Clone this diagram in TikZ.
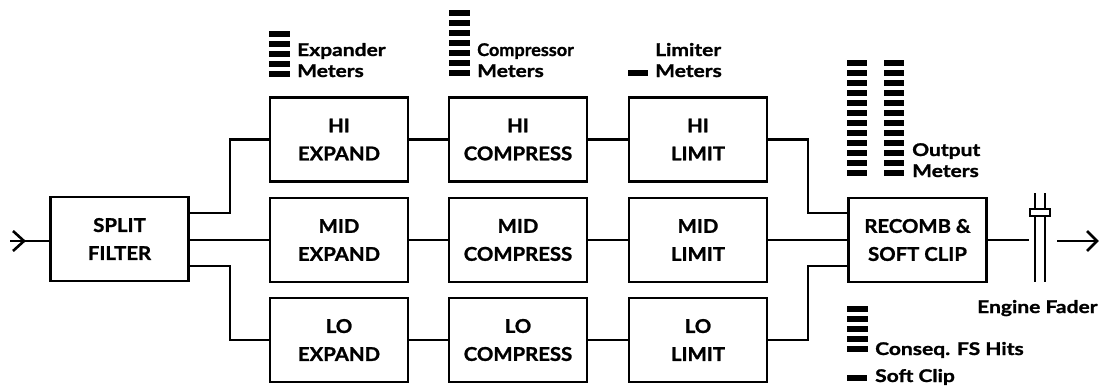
\documentclass[tikz,border=0pt]{standalone}
\usepackage{fontspec}
\setmainfont{Lato}[FakeStretch=1.07, BoldFeatures={FakeBold=1.3}]
\newfontfamily\lblfont{Lato}[FakeStretch=1.2, BoldFeatures={FakeBold=1.3}]
\begin{document}
\begin{tikzpicture}[x=1pt,y=-1pt,
  blk/.style={draw, line width=2.6pt, minimum width=138pt, minimum height=84pt, inner sep=0pt, align=center, font=\bfseries\fontsize{19}{28}\selectfont},
  wire/.style={line width=2.6pt},
  lbl/.style={anchor=base west, inner sep=0pt, font=\lblfont\bfseries\fontsize{17.5}{21}\selectfont}]
\useasboundingbox (0,0) rectangle (1106,389);
% blocks
\node[blk] (split) at (119.5,239) {SPLIT\\FILTER};
\node[blk] (hie) at (339,139.5) {HI\\EXPAND};
\node[blk] (mide) at (339,240) {MID\\EXPAND};
\node[blk] (loe) at (339,340) {LO\\EXPAND};
\node[blk] (hic) at (518,139.5) {HI\\COMPRESS};
\node[blk] (midc) at (518,240) {MID\\COMPRESS};
\node[blk] (loc) at (518,340) {LO\\COMPRESS};
\node[blk] (hil) at (698,139.5) {HI\\LIMIT};
\node[blk] (midl) at (698,240) {MID\\LIMIT};
\node[blk] (lol) at (698,340) {LO\\LIMIT};
\node[blk] (rec) at (917.5,240) {RECOMB \&\\SOFT CLIP};
% helper coordinates
\coordinate (sy1) at (0,213);
\coordinate (sy3) at (0,266);
\coordinate (inl) at (10,241);
\coordinate (fin) at (1029,240);
\coordinate (fout) at (1057,241);
\coordinate (outend) at (1097,241);
% connectors
\draw[wire] (inl) -- (split.west |- inl);
\draw[wire, line join=miter] (13,231) -- (24,241) -- (13,251);
\draw[wire] (split.east |- sy1) -- (230,213) |- (hie.west);
\draw[wire] (split.east |- mide) -- (mide.west);
\draw[wire] (split.east |- sy3) -- (230,266) |- (loe.west);
\draw[wire] (hie) -- (hic); \draw[wire] (hic) -- (hil);
\draw[wire] (mide) -- (midc); \draw[wire] (midc) -- (midl);
\draw[wire] (loe) -- (loc); \draw[wire] (loc) -- (lol);
\draw[wire] (hil.east) -| (808,213) -- (rec.west |- sy1);
\draw[wire] (midl.east) -- (rec.west);
\draw[wire] (lol.east) -| (808,266) -- (rec.west |- sy3);
\draw[wire] (rec.east) -- (fin);
% fader
\draw[line width=2.4pt] (1035,193) -- (1035,282);
\draw[line width=2.4pt] (1045,193) -- (1045,282);
\draw[line width=2.2pt, fill=white] (1030,209) rectangle (1050,216);
\draw[wire] (fout) -- (outend);
\draw[wire, line join=miter] (1087,231) -- (outend) -- (1087,251);
% meters
\foreach \t in {31,41,51,61,71} \fill (269,\t) rectangle (290,\t+6);
\foreach \t in {10,20,...,70} \fill (449,\t) rectangle (470,\t+6);
\fill (628,70) rectangle (648,76);
\foreach \i in {0,...,11} {\fill (847,60+10*\i) rectangle (867,66+10*\i);
  \fill (884,60+10*\i) rectangle (904,66+10*\i);}
\foreach \t in {306,316,326,336,346} \fill (847,\t) rectangle (868,\t+6);
\fill (847,375) rectangle (867,381);
% labels
\node[lbl] (exl1) at (297,56) {Expander};
\node[lbl] (exl2) at (297,77) {Meters};
\node[lbl] (col1) at (477,56) {\scalebox{0.86}[1]{Compressor}};
\node[lbl] (col2) at (477,77) {Meters};
\node[lbl] (lil1) at (655,56) {Limiter};
\node[lbl] (lil2) at (655,77) {Meters};
\node[lbl] (oul1) at (912,156) {Output};
\node[lbl] (oul2) at (912,177) {Meters};
\node[lbl] (csl) at (875,355) {Conseq. FS Hits};
\node[lbl] (scl) at (875,382) {Soft Clip};
\node[lbl] (efl) at (977,313) {Engine Fader};
\end{tikzpicture}
\end{document}
